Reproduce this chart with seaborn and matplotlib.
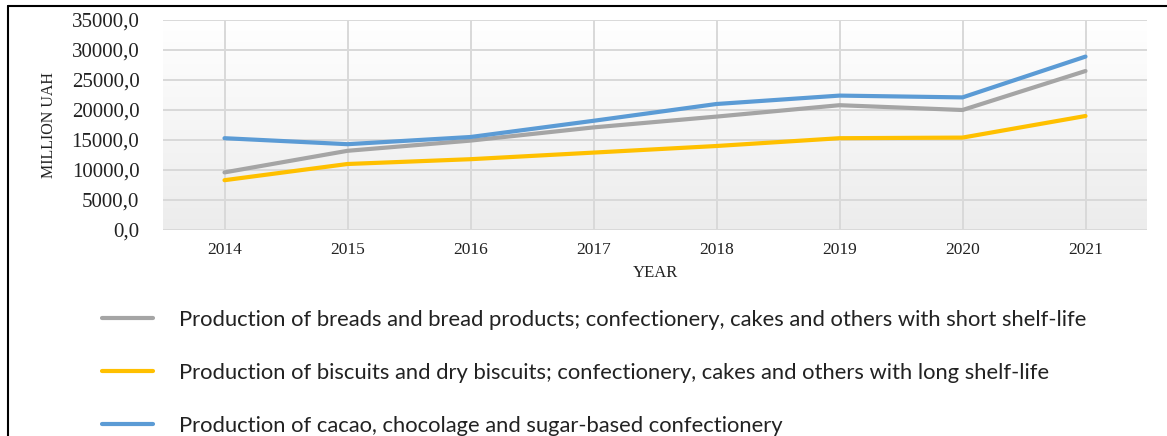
import numpy as np
import pandas as pd
import matplotlib
matplotlib.use("Agg")
import matplotlib.pyplot as plt
from matplotlib.lines import Line2D
from matplotlib.ticker import FuncFormatter
import seaborn as sns

years = ["2014", "2015", "2016", "2017", "2018", "2019", "2020", "2021"]
bread = [9600, 13200, 14900, 17100, 18900, 20800, 20000, 26500]
biscuits = [8300, 11000, 11800, 12900, 14000, 15300, 15400, 19000]
cacao = [15300, 14300, 15500, 18200, 21000, 22400, 22100, 28900]

series_names = [
    "Production of breads and bread products; confectionery, cakes and others with short shelf-life",
    "Production of biscuits and dry biscuits; confectionery, cakes and others with long shelf-life",
    "Production of cacao, chocolage and sugar-based confectionery",
]
colors = ["#a5a5a5", "#ffc000", "#5b9bd5"]
y_ticks = [0, 5000, 10000, 15000, 20000, 25000, 30000, 35000]

df = pd.DataFrame({
    "year": years * 3,
    "value": bread + biscuits + cacao,
    "series": [series_names[0]] * 8 + [series_names[1]] * 8 + [series_names[2]] * 8,
})

sns.set_style("white")
plt.rcParams["font.family"] = ["Liberation Serif", "DejaVu Serif"]

fig = plt.figure(figsize=(11.67, 4.36), dpi=100)
ax = fig.add_axes([163 / 1167, 1 - 230 / 436, 984 / 1167, 210 / 436])

# soft vertical gradient behind the plot area: white at the top, light grey at the bottom
grad = np.linspace(1.0, 0.0, 256).reshape(-1, 1)
cmap = matplotlib.colors.LinearSegmentedColormap.from_list("bg", ["#ececec", "#ffffff"])
ax.imshow(grad, extent=[-0.5, 7.5, 0, 35000], aspect="auto", cmap=cmap,
          origin="upper", zorder=0, vmin=0, vmax=1)

sns.lineplot(data=df, x="year", y="value", hue="series", palette=colors,
             linewidth=3.0, legend=False, ax=ax, zorder=3, sort=False)

ax.set_xlim(-0.5, 7.5)
ax.set_ylim(0, 35000)
ax.set_yticks(y_ticks)
ax.yaxis.set_major_formatter(FuncFormatter(lambda v, p: f"{v:.1f}".replace(".", ",")))
ax.grid(True, color="#d9d9d9", linewidth=1.4, zorder=1)
ax.set_axisbelow(True)
for s in ax.spines.values():
    s.set_visible(False)
ax.tick_params(axis="y", length=0, pad=17, labelsize=15, labelcolor="#222222")
ax.tick_params(axis="x", length=0, pad=9, labelsize=12.5, labelcolor="#222222")

ax.set_ylabel("MILLION UAH", fontsize=11.5, color="#222222")
ax.yaxis.set_label_coords(-0.108, 0.5)
ax.set_xlabel("YEAR", fontsize=12, color="#222222")
ax.xaxis.set_label_coords(0.5, -0.165)

handles = [Line2D([0], [0], color=c, linewidth=3.0) for c in colors]
fig.legend(handles, series_names, loc="upper left",
           bbox_to_anchor=(82 / 1167, 1 - 290 / 436), frameon=False,
           prop={"family": "Lato", "size": 15.8}, handlelength=2.35,
           handletextpad=1.15, labelspacing=1.5, labelcolor="#222222")

# outer frame on the top and left edges
fig.add_artist(Line2D([8 / 1167, 1], [1 - 6 / 436, 1 - 6 / 436], color="black",
                      linewidth=1.5, transform=fig.transFigure))
fig.add_artist(Line2D([8 / 1167, 8 / 1167], [0, 1 - 6 / 436], color="black",
                      linewidth=1.5, transform=fig.transFigure))

fig.savefig("out.png", dpi=100, facecolor="white")
